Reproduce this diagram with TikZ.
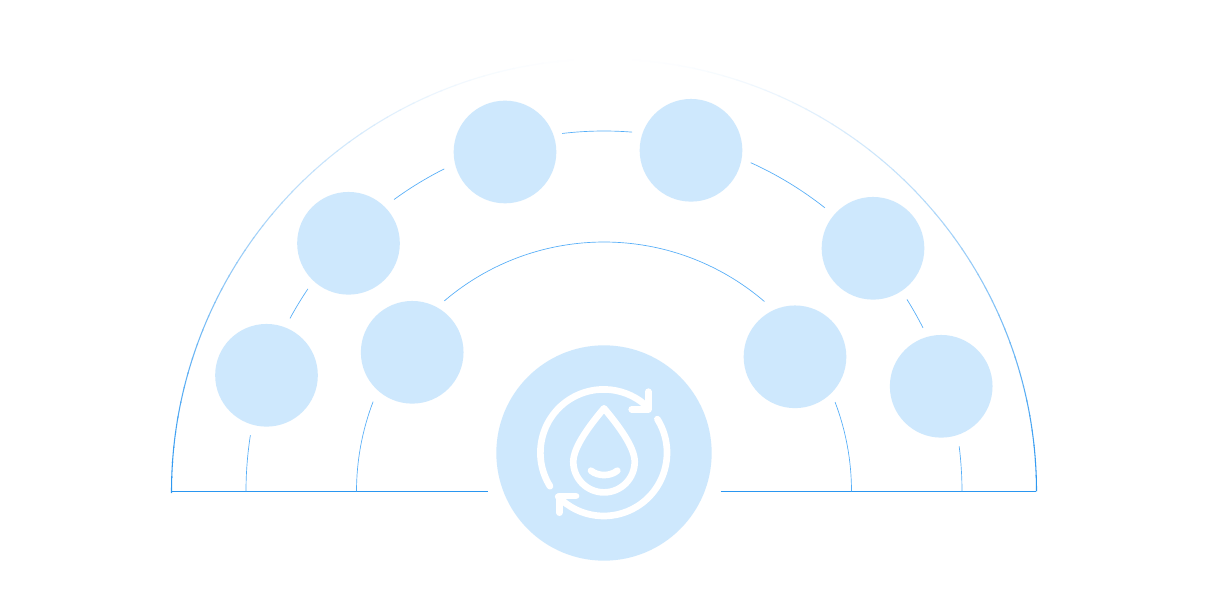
\documentclass[tikz,border=0pt]{standalone}
\definecolor{disc}{HTML}{CEE8FD}
\definecolor{lineblue}{HTML}{2A96F0}
\definecolor{midblue}{HTML}{55AEF8}
\tikzset{
  x=0.75pt,y=0.75pt,
  bubble/.style={circle,fill=disc,draw=none,minimum size=77pt,inner sep=0pt},
  hub/.style={circle,fill=disc,draw=none,minimum size=161.5pt,inner sep=0pt},
  baseline/.style={draw=lineblue,line width=0.85pt},
  guide/.style={draw=midblue,line width=0.5pt},
  iconline/.style={draw=white,line width=5pt,line cap=round,line join=round}
}
% guide arc about the hub axis: start angle, end angle, x radius, y radius
\newcommand{\guidearc}[4]{\draw[guide] (axis) ++(#1:#3 and #4) arc[start angle=#1,end angle=#2,x radius=#3,y radius=#4];}
\begin{document}
\begin{tikzpicture}
\useasboundingbox (0,0) rectangle (1207,599);
\fill[white] (0,0) rectangle (1207,599);
\coordinate (axis) at (604,107.5);
% outer fading arc
\foreach \a in {0,2,...,178}{
  \pgfmathsetmacro{\b}{\a+2.2}
  \pgfmathsetmacro{\p}{max(0,min(100,100*(1-sin(\a+1))^0.95))}
  \draw[line width=0.8pt,draw=lineblue!\p!white,line cap=butt]
    (axis) ++(\a:432.5) arc[start angle=\a,end angle=\b,radius=432.5];
}
% base lines
\coordinate (bl) at (171.6,107.5);
\coordinate (br) at (1036.4,107.5);
\coordinate (hl) at (487.5,107.5);
\coordinate (hr) at (720.5,107.5);
\draw[baseline] (bl) -- (hl);
\draw[baseline] (hr) -- (br);
% inner guide arcs
\guidearc{180}{158.9}{247.5}{249.5}
\guidearc{130.2}{49.6}{247.5}{249.5}
\guidearc{21}{0}{247.5}{249.5}
% middle guide arcs
\guidearc{180}{171}{358}{360.5}
\guidearc{151.3}{145.8}{358}{360.5}
\guidearc{125.9}{116.5}{358}{360.5}
\guidearc{96.7}{85.5}{358}{360.5}
\guidearc{65.8}{51.9}{358}{360.5}
\guidearc{32.2}{27}{358}{360.5}
\guidearc{7.2}{0}{358}{360.5}
% discs
\node[bubble] (n1) at (266.5,223.7) {};
\node[bubble] (n2) at (348.5,355.7) {};
\node[bubble] (n3) at (505,447) {};
\node[bubble] (n4) at (691,448.7) {};
\node[bubble] (n5) at (873,350.7) {};
\node[bubble] (n6) at (941.2,212.7) {};
\node[bubble] (n7) at (412.2,246.7) {};
\node[bubble] (n8) at (795,242.2) {};
\node[hub] (hubdisc) at (604,146) {};
% icon: circulating arrows
\coordinate (ring) at (603.7,146.3);
\draw[iconline] (ring) ++(212:63.3) arc[start angle=212,end angle=45,radius=63.3];
\draw[iconline] (648.3,207.3) -- (648.3,189.7) -- (631.7,189.7);
\draw[iconline] (ring) ++(32:63.3) arc[start angle=32,end angle=-136,radius=63.3];
\draw[iconline] (576,103) -- (559.3,103) -- (559.3,86.3);
% icon: drop
\draw[iconline] (604,190.7) .. controls (590,174) and (573.3,152) .. (573.3,137.3)
  arc[start angle=180,end angle=360,radius=30.7]
  .. controls (634.7,152) and (618,174) .. cycle;
\draw[iconline] (591,128.3) .. controls (598,122.5) and (610,122.5) .. (617.3,128.3);
\end{tikzpicture}
\end{document}
